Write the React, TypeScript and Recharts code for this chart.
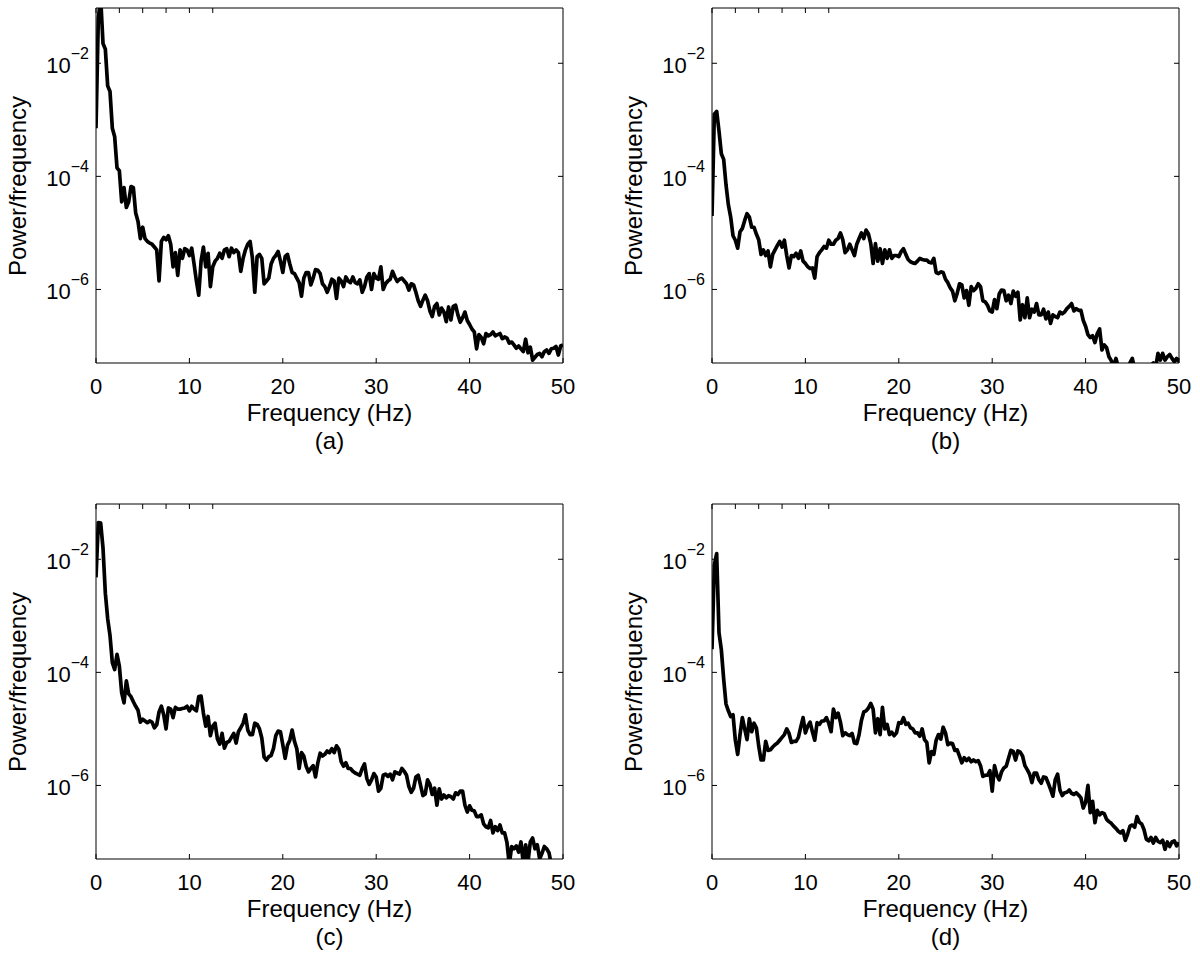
import React from 'react';
import { LineChart, Line, XAxis, YAxis } from 'recharts';

const FONT = "'Liberation Sans', Arial, Helvetica, sans-serif";

// spectra are sampled every 0.25 Hz from 0 to 50 Hz
const frequencies = Array.from({ length: 201 }, (_, i) => i * 0.25);

const xTicks = [0, 10, 20, 30, 40, 50];
const yTicks = [1e-2, 1e-4, 1e-6];
const yDomain = [5e-8, 0.095];

// log10(power/frequency), 8 values (2 Hz) per row
const logPsdA = [
  -3.15, -1.2, -0.85, -1.65, -1.75, -2.4, -2.5, -3.15,
  -3.3, -3.85, -3.9, -4.45, -4.2, -4.55, -4.45, -4.18,
  -4.2, -4.65, -4.8, -5.1, -4.9, -5.1, -5.15, -5.18,
  -5.2, -5.25, -5.3, -5.85, -5.15, -5.08, -5.12, -5.05,
  -5.2, -5.6, -5.35, -5.75, -5.3, -5.45, -5.28, -5.3,
  -5.4, -5.27, -5.55, -5.85, -6.1, -5.5, -5.25, -5.6,
  -5.36, -5.95, -5.6, -5.5, -5.45, -5.36, -5.45, -5.3,
  -5.28, -5.42, -5.27, -5.35, -5.3, -5.35, -5.68, -5.45,
  -5.3, -5.2, -5.15, -5.45, -6.05, -5.42, -5.38, -5.45,
  -5.9, -5.85, -5.8, -5.55, -5.45, -5.4, -5.33, -5.5,
  -5.7, -5.42, -5.38, -5.55, -5.7, -5.72, -5.8, -5.88,
  -6.12, -5.8, -5.7, -5.7, -5.92, -5.8, -5.65, -5.66,
  -5.72, -5.9, -5.95, -6.05, -5.95, -5.82, -5.85, -6.16,
  -5.8, -5.85, -5.95, -5.78, -5.85, -5.88, -5.78, -5.88,
  -5.9, -5.83, -6.05, -5.95, -5.78, -5.72, -6.0, -5.72,
  -5.8, -5.82, -5.6, -6.0, -5.9, -5.85, -5.82, -5.68,
  -5.78, -5.86, -5.82, -5.8, -5.85, -5.9, -6.01, -5.9,
  -5.92, -6.05, -6.2, -6.3, -6.19, -6.1, -6.2, -6.38,
  -6.48, -6.3, -6.25, -6.45, -6.33, -6.4, -6.57, -6.31,
  -6.54, -6.3, -6.28, -6.45, -6.58, -6.5, -6.4, -6.55,
  -6.62, -6.7, -6.75, -7.05, -6.8, -6.85, -6.96, -6.78,
  -6.82, -6.8, -6.75, -6.82, -6.8, -6.78, -6.87, -6.84,
  -6.86, -6.95, -6.93, -6.98, -7.04, -7.0, -7.05, -7.1,
  -6.88, -7.12, -7.02, -7.25, -7.2, -7.15, -7.13, -7.19,
  -7.1, -7.07, -7.13, -7.05, -7.04, -7.01, -7.16, -7.0,
  -6.98,
];

const logPsdB = [
  -4.7, -2.9, -2.85, -3.2, -3.6, -3.7, -4.15, -4.5,
  -4.72, -5.05, -5.13, -5.27, -4.98, -4.92, -4.78, -4.66,
  -4.72, -4.9, -4.9, -5.02, -5.12, -5.38, -5.3, -5.4,
  -5.32, -5.6, -5.38, -5.3, -5.22, -5.15, -5.25, -5.13,
  -5.4, -5.62, -5.4, -5.42, -5.36, -5.45, -5.32, -5.5,
  -5.54, -5.6, -5.63, -5.62, -5.8, -5.42, -5.35, -5.3,
  -5.24, -5.27, -5.13, -5.2, -5.2, -5.13, -5.1, -5.0,
  -5.12, -5.35, -5.3, -5.2, -5.3, -5.4, -5.2, -5.1,
  -5.0, -5.1, -4.95, -5.02, -5.19, -5.54, -5.19, -5.5,
  -5.28, -5.54, -5.3, -5.45, -5.3, -5.45, -5.4, -5.4,
  -5.42, -5.33, -5.28, -5.38, -5.47, -5.51, -5.53, -5.54,
  -5.5, -5.45, -5.47, -5.48, -5.48, -5.52, -5.53, -5.45,
  -5.7, -5.72, -5.69, -5.7, -5.82, -5.88, -5.97, -6.03,
  -6.2, -6.07, -5.9, -5.92, -6.15, -6.02, -6.28, -5.95,
  -6.02, -5.98, -5.9, -5.95, -6.2, -6.22, -6.28, -6.38,
  -6.4, -6.18, -6.34, -6.08, -6.01, -6.02, -6.2, -6.1,
  -6.25, -6.03, -6.12, -6.05, -6.54, -6.27, -6.5, -6.15,
  -6.5, -6.35, -6.4, -6.25, -6.45, -6.45, -6.35, -6.52,
  -6.4, -6.6, -6.45, -6.48, -6.5, -6.4, -6.43, -6.4,
  -6.34, -6.3, -6.25, -6.38, -6.34, -6.37, -6.37, -6.55,
  -6.65, -6.8, -6.85, -6.82, -6.94, -6.78, -6.7, -7.07,
  -6.98, -7.03, -7.19, -7.26, -7.36, -7.22, -7.38, -7.45,
  -7.5, -7.45, -7.4, -7.3, -7.22, -7.4, -7.5, -7.55,
  -7.5, -7.45, -7.5, -7.4, -7.35, -7.3, -7.38, -7.13,
  -7.25, -7.13, -7.25, -7.19, -7.15, -7.22, -7.28, -7.22,
  -7.28,
];

const logPsdC = [
  -2.32, -1.35, -1.36, -1.8, -2.6, -3.05, -3.35, -3.83,
  -3.95, -3.68, -3.89, -4.36, -4.54, -4.15, -4.38, -4.43,
  -4.52, -4.6, -4.67, -4.88, -4.83, -4.86, -4.89, -4.86,
  -4.88, -4.98, -4.93, -4.7, -4.6, -4.75, -5.0, -4.63,
  -4.65, -4.8, -4.62, -4.65, -4.65, -4.64, -4.63, -4.6,
  -4.68, -4.6, -4.65, -4.68, -4.43, -4.42, -4.72, -4.95,
  -4.78, -5.12, -4.95, -4.9, -5.18, -5.27, -5.08, -5.34,
  -5.24, -5.22, -5.15, -5.08, -5.25, -5.05, -4.98, -4.9,
  -4.75, -5.02, -5.1, -5.1, -4.9, -4.92, -5.0, -5.16,
  -5.5, -5.55, -5.49, -5.47, -5.35, -5.12, -5.04, -5.05,
  -5.28, -5.52, -5.29, -5.2, -5.02, -5.22, -5.35, -5.7,
  -5.42, -5.48, -5.66, -5.76, -5.7, -5.65, -5.85, -5.6,
  -5.43, -5.48, -5.45, -5.39, -5.42, -5.35, -5.42, -5.3,
  -5.36, -5.58, -5.66, -5.6, -5.7, -5.7, -5.75, -5.78,
  -5.8, -5.82, -5.7, -5.62, -5.88, -5.98, -5.9, -5.79,
  -5.85, -6.1, -6.05, -5.82, -5.8, -5.84, -5.8, -5.9,
  -5.76, -5.78, -5.8, -5.7, -5.75, -5.82, -6.02, -6.12,
  -6.05, -5.85, -5.82, -6.0, -6.18, -6.15, -5.9, -5.98,
  -6.16, -6.05, -6.35, -6.06, -6.24, -6.17, -6.22, -6.18,
  -6.2, -6.24, -6.13, -6.16, -6.1, -6.1, -6.35, -6.47,
  -6.36, -6.44, -6.45, -6.55, -6.55, -6.52, -6.68, -6.73,
  -6.75, -6.62, -6.84, -6.73, -6.8, -6.7, -6.84, -6.84,
  -7.01, -7.4, -7.08, -7.12, -7.07, -7.18, -7.0, -7.38,
  -7.05, -7.35, -7.0, -6.93, -7.12, -7.05, -7.3, -7.2,
  -7.08, -7.12, -7.19, -7.4, -7.5, -7.55, -7.6, -7.6,
  -7.6,
];

const logPsdD = [
  -3.59, -2.1, -1.9, -3.3, -3.6, -4.12, -4.56, -4.68,
  -4.78, -4.75, -5.2, -5.45, -5.1, -4.8, -5.0, -5.19,
  -4.82, -5.05, -4.9, -4.98, -5.3, -5.55, -5.55, -5.22,
  -5.38, -5.37, -5.32, -5.28, -5.25, -5.2, -5.15, -5.1,
  -5.0, -5.08, -5.24, -5.22, -5.22, -5.15, -4.97, -4.8,
  -5.07, -4.95, -4.88, -5.05, -5.2, -4.89, -4.92, -4.86,
  -4.86, -4.8, -4.9, -5.05, -4.65, -4.8, -4.72, -4.88,
  -5.12, -5.07, -5.1, -5.12, -5.08, -5.25, -5.26, -5.1,
  -4.85, -4.7, -4.68, -4.63, -4.55, -4.65, -5.07, -4.82,
  -5.1, -4.62, -5.0, -4.92, -5.1, -5.06, -5.12, -5.07,
  -4.89, -4.9, -4.8, -4.92, -4.9, -4.98, -5.0, -5.07,
  -5.07, -5.13, -5.0, -5.19, -5.24, -5.6, -5.4, -5.45,
  -5.2, -5.1, -5.18, -4.97, -5.07, -5.28, -5.25, -5.26,
  -5.38, -5.37, -5.48, -5.6, -5.51, -5.56, -5.52, -5.58,
  -5.55, -5.58, -5.56, -5.65, -5.84, -5.82, -5.82, -5.74,
  -6.1, -5.65, -5.82, -5.9, -5.76, -5.69, -5.66, -5.52,
  -5.38, -5.4, -5.55, -5.39, -5.41, -5.48, -5.65, -5.72,
  -5.8, -5.95, -5.78, -5.78, -5.9, -5.96, -5.85, -5.86,
  -5.96, -6.07, -6.19, -5.9, -5.8, -6.08, -6.18, -6.13,
  -6.12, -6.08, -6.14, -6.16, -6.13, -6.17, -6.22, -6.4,
  -6.3, -6.0, -6.48, -6.28, -6.66, -6.44, -6.52, -6.48,
  -6.5, -6.6, -6.64, -6.67, -6.72, -6.76, -6.81, -6.84,
  -6.8, -6.97, -6.86, -6.72, -6.7, -6.74, -6.55, -6.65,
  -6.68, -6.78, -6.95, -6.98, -6.92, -7.02, -6.92, -6.99,
  -7.01, -6.97, -7.13, -7.0, -7.08, -7.0, -6.98, -7.07,
  -7.01,
];

const panels = [
  { caption: '(a)', values: logPsdA, left: 0, top: 0 },
  { caption: '(b)', values: logPsdB, left: 616, top: 0 },
  { caption: '(c)', values: logPsdC, left: 0, top: 496 },
  { caption: '(d)', values: logPsdD, left: 616, top: 496 },
];

// plot box inside each chart
const CHART_W = 600;
const CHART_H = 470;
const PLOT_L = 96;
const PLOT_T = 8;
const PLOT_W = 467;
const PLOT_H = 355;
const TICK_LEN = 5;
// every axis gets a 1px band, recharts skips axes of zero size
const AX = 1;

const TITLE_SIZE = 24;
// distance from line-box top to baseline for Liberation Sans
const baselineOffset = (size: number) => (size - 1.117 * size) / 2 + 0.905 * size;

const BottomTick = (props: any) => {
  const { x, y, payload } = props;
  return (
    <g>
      <line x1={x} x2={x} y1={y} y2={y - TICK_LEN} stroke="#000" />
      <text x={x} y={y + 31} textAnchor="middle" fontSize={22} fontFamily={FONT} fill="#000">
        {payload.value}
      </text>
    </g>
  );
};

const TopTick = (props: any) => {
  const { x, y } = props;
  return <line x1={x} x2={x} y1={y} y2={y + TICK_LEN} stroke="#000" />;
};

const LeftTick = (props: any) => {
  const { x, y, payload } = props;
  const exp = Math.round(Math.log10(payload.value));
  return (
    <g>
      <line x1={x} x2={x + TICK_LEN} y1={y} y2={y} stroke="#000" />
      <text x={x - 7} y={y + 10} textAnchor="end" fontSize={22} fontFamily={FONT} fill="#000">
        10
        <tspan dy={-14} fontSize={16}>
          {exp < 0 ? '\u2212' + -exp : exp}
        </tspan>
      </text>
    </g>
  );
};

const RightTick = (props: any) => {
  const { x, y } = props;
  return <line x1={x} x2={x - TICK_LEN} y1={y} y2={y} stroke="#000" />;
};

const textStyle: React.CSSProperties = {
  position: 'absolute',
  fontFamily: FONT,
  fontSize: TITLE_SIZE,
  lineHeight: `${TITLE_SIZE}px`,
  color: '#000',
  whiteSpace: 'nowrap',
};

function Panel({ caption, values, left, top }: any) {
  const data = frequencies.map((f, i) => ({ f, p: Math.pow(10, values[i]) }));
  const cx = PLOT_L + PLOT_W / 2;
  const axisLine = { stroke: '#000', strokeWidth: 1 };
  const common = {
    allowDataOverflow: true,
    tickSize: 0,
    tickMargin: 0,
    tickLine: false,
    axisLine,
    interval: 0 as const,
  };
  const base = baselineOffset(TITLE_SIZE);
  return (
    <div style={{ position: 'absolute', left, top, width: CHART_W, height: CHART_H }}>
      <LineChart
        width={CHART_W}
        height={CHART_H}
        data={data}
        margin={{
          top: PLOT_T - AX,
          left: PLOT_L - AX,
          right: CHART_W - PLOT_L - PLOT_W - AX,
          bottom: CHART_H - PLOT_T - PLOT_H - AX,
        }}
      >
        <XAxis dataKey="f" type="number" domain={[0, 50]} ticks={xTicks} height={AX} tick={BottomTick} {...common} />
        <XAxis
          xAxisId="top"
          orientation="top"
          type="number"
          domain={[0, 50]}
          ticks={xTicks}
          height={AX}
          tick={TopTick}
          {...common}
        />
        <YAxis type="number" scale="log" domain={yDomain} ticks={yTicks} width={AX} tick={LeftTick} {...common} />
        <YAxis
          yAxisId="right"
          orientation="right"
          type="number"
          scale="log"
          domain={yDomain}
          ticks={yTicks}
          width={AX}
          tick={RightTick}
          {...common}
        />
        <Line
          type="linear"
          dataKey="p"
          stroke="#000"
          strokeWidth={3.7}
          strokeLinejoin="round"
          dot={false}
          activeDot={false}
          isAnimationActive={false}
        />
      </LineChart>
      <div
        style={{
          ...textStyle,
          left: 18,
          top: PLOT_T + PLOT_H / 2,
          transform: 'translate(-50%, -50%) rotate(-90deg)',
        }}
      >
        Power/frequency
      </div>
      <div style={{ ...textStyle, left: cx, top: PLOT_T + PLOT_H + 58 - base, transform: 'translateX(-50%)' }}>
        Frequency (Hz)
      </div>
      <div style={{ ...textStyle, left: cx, top: PLOT_T + PLOT_H + 86 - base, transform: 'translateX(-50%)' }}>
        {caption}
      </div>
    </div>
  );
}

export default function App() {
  return (
    <div style={{ position: 'absolute', left: 0, top: 0, width: 1200, height: 958, background: '#fff' }}>
      {panels.map((p) => (
        <Panel key={p.caption} {...p} />
      ))}
    </div>
  );
}
